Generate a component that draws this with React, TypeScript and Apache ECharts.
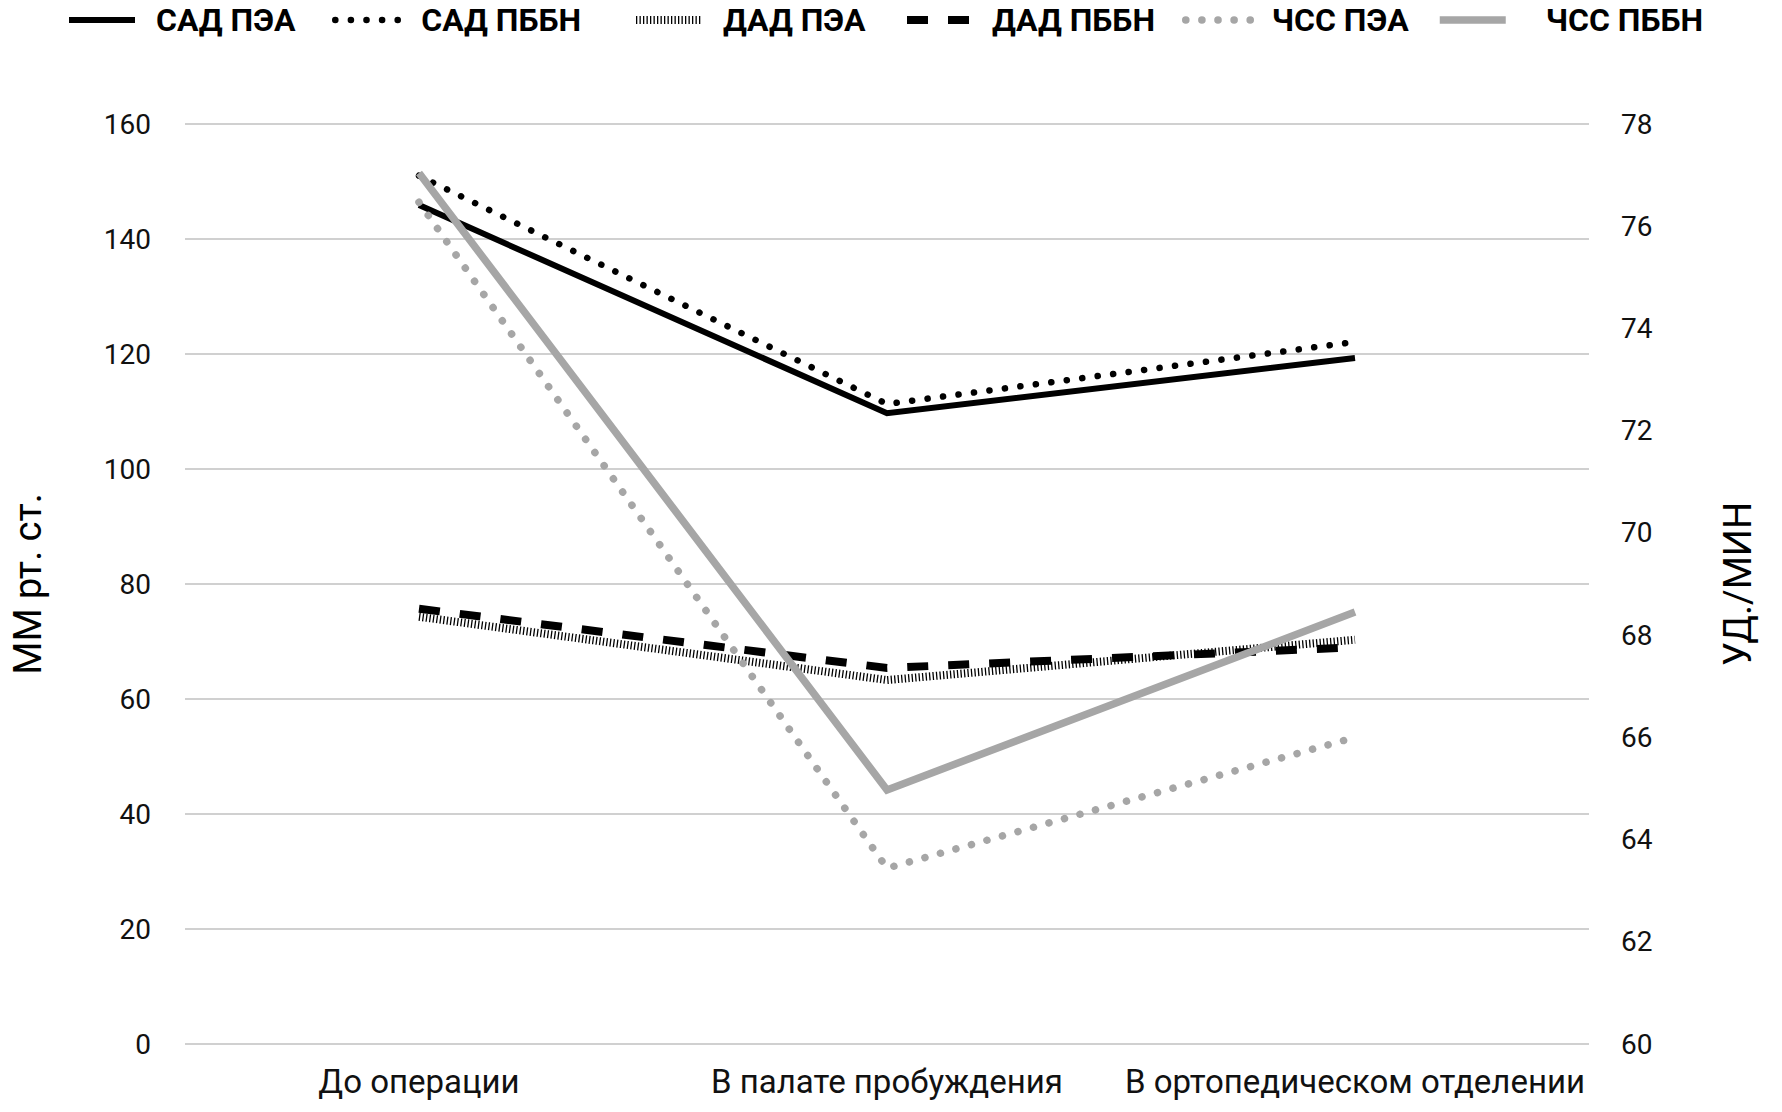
import React, { useEffect, useRef } from "react";
import * as echarts from "echarts";

const categories = ["До операции", "В палате пробуждения", "В ортопедическом отделении"];
const sadPea = [145.9, 109.7, 119.3];
const sadPbbn = [151.0, 111.3, 122.1];
const dadPea = [74.3, 63.3, 70.3];
const dadPbbn = [75.7, 65.4, 69.0];
const hrPea = [76.47, 63.44, 66.0];
const hrPbbn = [77.04, 64.97, 68.45];
const seriesNames = ["САД ПЭА", "САД ПББН", "ДАД ПЭА", "ДАД ПББН", "ЧСС ПЭА", "ЧСС ПББН"];
const leftTicks = { min: 0, max: 160, interval: 20 };
const rightTicks = { min: 60, max: 78, interval: 2 };

const FONT = "Roboto, 'Liberation Sans', sans-serif";
const GRAY = "#a6a6a6";

export default function App() {
  const ref = useRef<HTMLDivElement>(null);
  useEffect(() => {
    if (!ref.current) return;
    const chart = echarts.init(ref.current, undefined, { renderer: "svg" });
    const legendLefts = [66, 332, 632, 903, 1182, 1436];
    const legendTextPad = [16, 15, 16, 14, 15, 35];
    const widths = [6, 6.5, 8, 8, 7.5, 7.5];
    const legends = seriesNames.map((n, i) => ({
      data: [n],
      left: legendLefts[i],
      top: 4,
      padding: 0,
      itemWidth: 66,
      itemHeight: 14,
      selectedMode: false,
      itemStyle: { opacity: 0 },
      lineStyle: { width: widths[i] },
      textStyle: {
        fontFamily: FONT,
        fontWeight: "bold",
        fontSize: 32,
        color: "#000",
        padding: [0, 0, 0, legendTextPad[i]],
      },
    }));
    const mk = (name: string, data: number[], yAxisIndex: number, color: string, width: number, type: any, cap: any = "butt") => ({
      name,
      type: "line",
      data,
      yAxisIndex,
      symbol: "none",
      lineStyle: { color, width, type, cap, join: "miter" },
      itemStyle: { color },
      emphasis: { disabled: true },
    });
    chart.setOption({
      animation: false,
      legend: legends,
      grid: { left: 185, right: 193, top: 124, bottom: 68, containLabel: false },
      xAxis: {
        type: "category",
        data: categories,
        boundaryGap: true,
        axisLine: { show: false },
        axisTick: { show: false },
        axisLabel: { fontFamily: FONT, fontSize: 33, color: "#111", margin: 21, interval: 0 },
      },
      yAxis: [
        {
          type: "value",
          ...leftTicks,
          name: "ММ рт. ст.",
          nameLocation: "middle",
          nameGap: 138,
          nameRotate: 90,
          nameTextStyle: { fontFamily: FONT, fontSize: 38, color: "#000" },
          axisLine: { show: false },
          axisTick: { show: false },
          axisLabel: { fontFamily: FONT, fontSize: 28, color: "#111", margin: 34 },
          splitLine: { show: true, lineStyle: { color: "#d0d0d0", width: 2 } },
        },
        {
          type: "value",
          ...rightTicks,
          position: "right",
          name: "УД./МИН",
          nameLocation: "middle",
          nameGap: 130,
          nameRotate: 90,
          nameTextStyle: { fontFamily: FONT, fontSize: 38, color: "#000" },
          axisLine: { show: false },
          axisTick: { show: false },
          axisLabel: { fontFamily: FONT, fontSize: 28, color: "#111", margin: 32 },
          splitLine: { show: false },
        },
      ],
      series: [
        mk(seriesNames[0], sadPea, 0, "#000", 6, "solid"),
        mk(seriesNames[1], sadPbbn, 0, "#000", 6.5, [0.1, 15.5], "round"),
        mk(seriesNames[2], dadPea, 0, "#000", 8, [1.3, 2.2]),
        mk(seriesNames[3], dadPbbn, 0, "#000", 8, [21, 20]),
        mk(seriesNames[4], hrPea, 1, GRAY, 7.5, [0.1, 16], "round"),
        mk(seriesNames[5], hrPbbn, 1, GRAY, 7.5, "solid"),
      ],
    });
    return () => chart.dispose();
  }, []);
  return <div ref={ref} style={{ position: "fixed", left: 0, top: 0, width: 1782, height: 1112, background: "#fff" }} />;
}
